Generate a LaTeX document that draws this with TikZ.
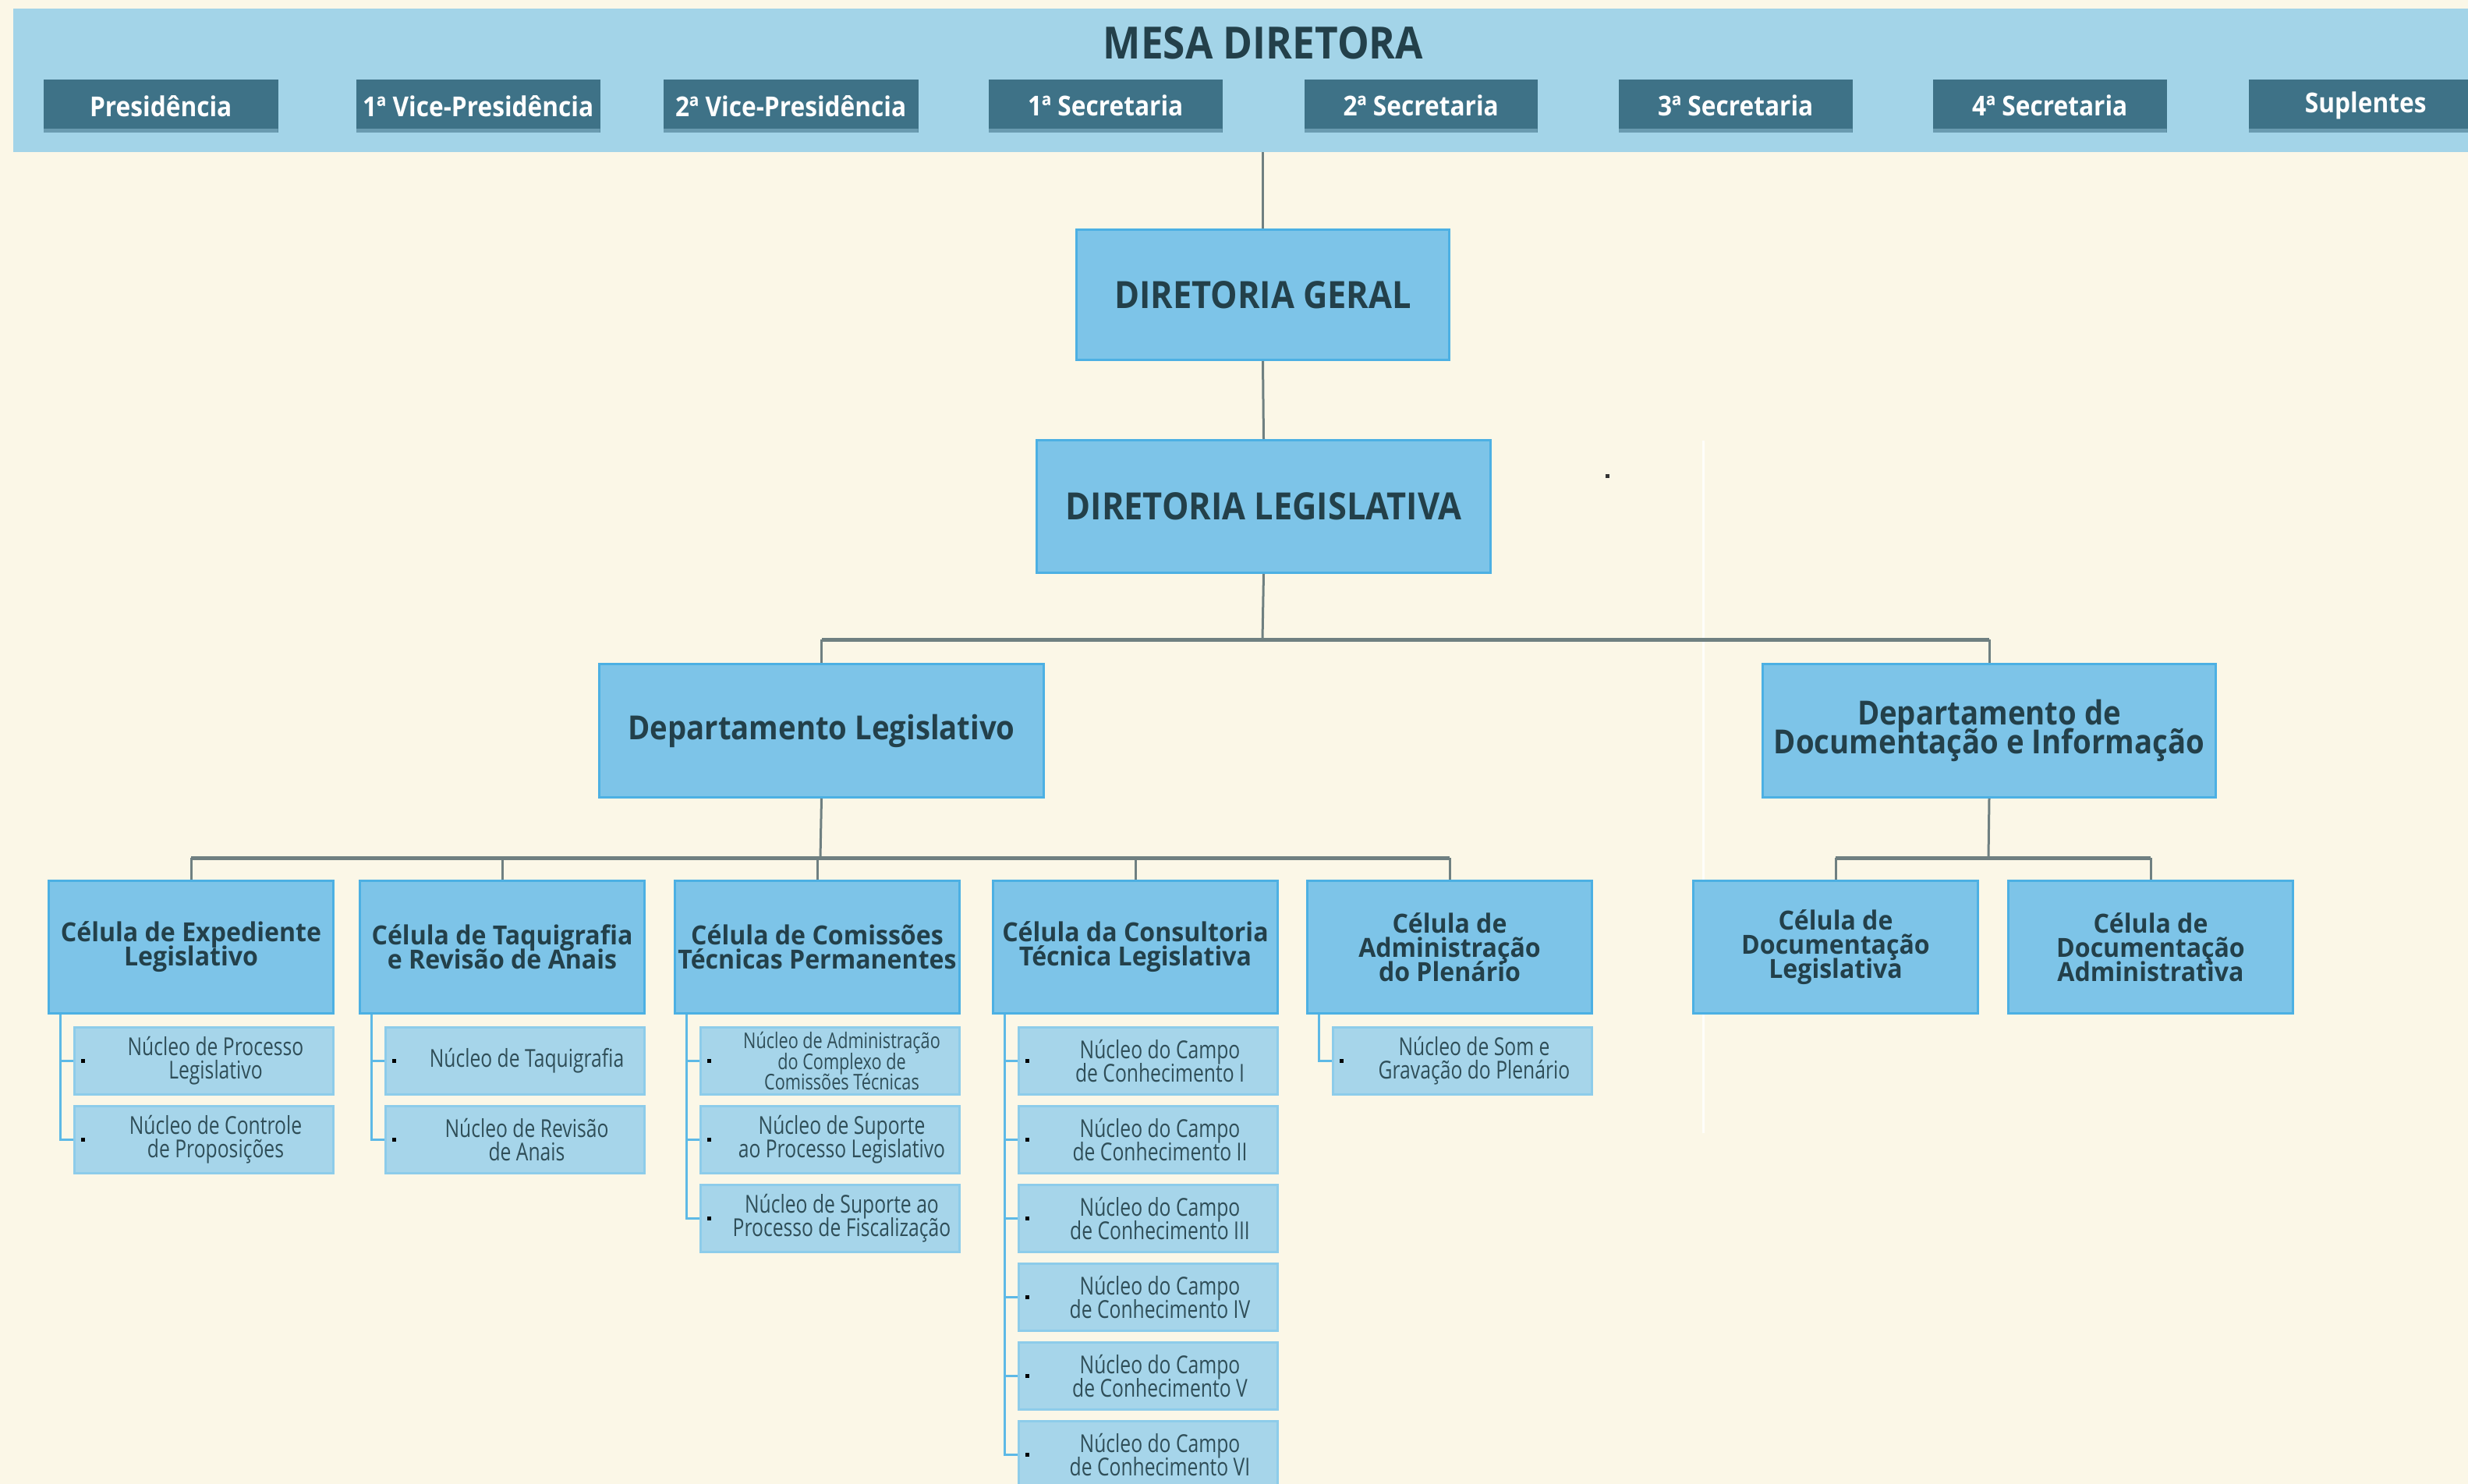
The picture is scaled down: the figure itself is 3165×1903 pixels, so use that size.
\documentclass[tikz,border=0pt]{standalone}
\usepackage{fontspec}
\newfontfamily\hfont{Open Sans}[FakeStretch=0.9]
\newfontfamily\cfont{Open Sans}[FakeStretch=0.95]
\newfontfamily\nfont{Open Sans}[FakeStretch=0.78]
\newlength\px \setlength\px{0.01cm}
\newcommand\tightlines{\lineskiplimit=-20pt\lineskip=0pt}
\definecolor{bg}{HTML}{FBF7E7}
\definecolor{bandc}{HTML}{A3D4E8}
\definecolor{btnc}{HTML}{3E7287}
\definecolor{btnstrip}{HTML}{6A9BB0}
\definecolor{boxfill}{HTML}{7DC4E8}
\definecolor{boxline}{HTML}{4CB0E3}
\definecolor{nucfill}{HTML}{A6D5EA}
\definecolor{nucline}{HTML}{8DCCEA}
\definecolor{txtdark}{HTML}{23404A}
\definecolor{txtnuc}{HTML}{2F4E58}
\definecolor{conncol}{HTML}{6F8081}
\definecolor{subcol}{HTML}{5DB9E6}
\tikzset{
  band/.style={fill=bandc, anchor=north west, inner sep=0pt, minimum width=3149\px, minimum height=184\px},
  btn/.style={fill=btnc, anchor=north west, inner sep=0pt, minimum height=68\px, text=white,
    font=\hfont\bfseries\fontsize{10}{11}\selectfont,
    path picture={\fill[btnstrip] (path picture bounding box.south west) rectangle ([yshift=5\px]path picture bounding box.south east);}},
  box/.style={draw=boxline, fill=boxfill, line width=3\px, text=txtdark, align=center, inner sep=0pt, anchor=north west},
  topbox/.style={box, font=\hfont\bfseries\fontsize{13.7}{14}\selectfont},
  dept/.style={box, font=\hfont\bfseries\fontsize{12.1}{10.6}\selectfont\tightlines, minimum width=570\px, minimum height=171\px},
  cell/.style={box, font=\cfont\bfseries\fontsize{9.6}{8.8}\selectfont\tightlines, minimum width=365\px, minimum height=170\px},
  nucbox/.style={draw=nucline, fill=nucfill, line width=3\px, minimum width=332\px, minimum height=86\px, anchor=north west, inner sep=0pt},
  nuctxt/.style={text=txtnuc, align=center, inner sep=0pt, font=\nfont\fontsize{9}{8.6}\selectfont\tightlines},
  smalltxt/.style={font=\nfont\fontsize{7.9}{7.5}\selectfont\tightlines},
  conn/.style={draw=conncol, line width=3\px},
  busline/.style={draw=conncol, line width=5\px},
  sub/.style={draw=subcol, line width=3\px},
}
\newcommand\nucleo[5][]{%
  \node[nucbox] (#2) at (#3,#4) {};
  \node[nuctxt,#1] (#2t) at ([xshift=15\px]#2.center) {#5};
  \fill[black] ([xshift=10\px,yshift=-2.5\px]#2.west) rectangle ([xshift=15\px,yshift=2.5\px]#2.west);
}
\begin{document}
\begin{tikzpicture}[x=0.01cm,y=-0.01cm]
\fill[bg] (0,0) rectangle (3165,1903);
\useasboundingbox (0,0) rectangle (3165,1903);
% faint artefacts
\draw[white, opacity=0.8, line width=3\px] (2184,565) -- (2184,1453);
\fill[black!80] (2059,608) rectangle (2064,613);

% header band
\node[band] (mesa) at (16,10) {};
\node[text=txtdark, font=\hfont\bfseries\fontsize{16.2}{18}\selectfont] (title) at (1620,55) {MESA DIRETORA};
\node[btn, minimum width=301\px] (b1) at (55,101) {Presidência};
\node[btn, minimum width=313\px] (b2) at (456,101) {1ª Vice-Presidência};
\node[btn, minimum width=327\px] (b3) at (850,101) {2ª Vice-Presidência};
\node[btn, minimum width=300\px] (b4) at (1267,101) {1ª Secretaria};
\node[btn, minimum width=299\px] (b5) at (1672,101) {2ª Secretaria};
\node[btn, minimum width=300\px] (b6) at (2075,101) {3ª Secretaria};
\node[btn, minimum width=300\px] (b7) at (2478,101) {4ª Secretaria};
\node[btn, minimum width=300\px] (b8) at (2883,101) {Suplentes};

% main boxes
\node[topbox, minimum width=478\px, minimum height=167\px] (dg) at (1379,293) {DIRETORIA GERAL};
\node[topbox, minimum width=582\px, minimum height=170\px] (dl) at (1328,563) {DIRETORIA LEGISLATIVA};
\node[dept] (dleg) at (767,850) {Departamento Legislativo};
\node[dept, minimum width=581\px] (ddoc) at (2259,850) {Departamento de\\Documentação e Informação};

% cells
\node[cell] (c1) at (61,1128) {Célula de Expediente\\Legislativo};
\node[cell] (c2) at (460,1128) {Célula de Taquigrafia\\e Revisão de Anais};
\node[cell] (c3) at (864,1128) {Célula de Comissões\\Técnicas Permanentes};
\node[cell] (c4) at (1272,1128) {Célula da Consultoria\\Técnica Legislativa};
\node[cell] (c5) at (1675,1128) {Célula de\\Administração\\do Plenário};
\node[cell] (c6) at (2170,1128) {Célula de\\Documentação\\Legislativa};
\node[cell] (c7) at (2574,1128) {Célula de\\Documentação\\Administrativa};

% connectors
\coordinate (busA) at (1619,820);
\coordinate (busB) at (1052,1100);
\coordinate (busC) at (2550,1100);
\draw[conn] (dg.north |- mesa.south) -- (dg.north);
\draw[conn] (dg.south) -- (dl.north);
\draw[conn] (dl.south) -- (busA);
\draw[conn] (dleg.north |- busA) -- (dleg.north);
\draw[conn] (ddoc.north |- busA) -- (ddoc.north);
\draw[busline] (dleg.north |- busA) -- (ddoc.north |- busA);
\draw[conn] (dleg.south) -- (busB);
\foreach \c in {c1,c2,c3,c4,c5} \draw[conn] (\c.north |- busB) -- (\c.north);
\draw[busline] (c1.north |- busB) -- (c5.north |- busB);
\draw[conn] (ddoc.south) -- (busC);
\foreach \c in {c6,c7} \draw[conn] (\c.north |- busC) -- (\c.north);
\draw[busline] (c6.north |- busC) -- (c7.north |- busC);

% nucleos
\nucleo{n11}{94}{1316}{Núcleo de Processo\\Legislativo}
\nucleo{n12}{94}{1417}{Núcleo de Controle\\de Proposições}
\nucleo{n21}{493}{1316}{Núcleo de Taquigrafia}
\nucleo{n22}{493}{1417}{Núcleo de Revisão\\de Anais}
\nucleo[smalltxt]{n31}{897}{1316}{Núcleo de Administração\\do Complexo de\\Comissões Técnicas}
\nucleo{n32}{897}{1417}{Núcleo de Suporte\\ao Processo Legislativo}
\nucleo{n33}{897}{1518}{Núcleo de Suporte ao\\Processo de Fiscalização}
\nucleo{n41}{1305}{1316}{Núcleo do Campo\\de Conhecimento I}
\nucleo{n42}{1305}{1417}{Núcleo do Campo\\de Conhecimento II}
\nucleo{n43}{1305}{1518}{Núcleo do Campo\\de Conhecimento III}
\nucleo{n44}{1305}{1619}{Núcleo do Campo\\de Conhecimento IV}
\nucleo{n45}{1305}{1720}{Núcleo do Campo\\de Conhecimento V}
\nucleo{n46}{1305}{1821}{Núcleo do Campo\\de Conhecimento VI}
\nucleo{n51}{1708}{1316}{Núcleo de Som e\\Gravação do Plenário}

% sub connectors
\coordinate (v1) at ([xshift=16\px]c1.south west);
\coordinate (v2) at ([xshift=16\px]c2.south west);
\coordinate (v3) at ([xshift=16\px]c3.south west);
\coordinate (v4) at ([xshift=16\px]c4.south west);
\coordinate (v5) at ([xshift=16\px]c5.south west);
\foreach \n in {n11,n12} \draw[sub] (v1) |- (\n.west);
\foreach \n in {n21,n22} \draw[sub] (v2) |- (\n.west);
\foreach \n in {n31,n32,n33} \draw[sub] (v3) |- (\n.west);
\foreach \n in {n41,n42,n43,n44,n45,n46} \draw[sub] (v4) |- (\n.west);
\draw[sub] (v5) |- (n51.west);
\end{tikzpicture}
\end{document}
